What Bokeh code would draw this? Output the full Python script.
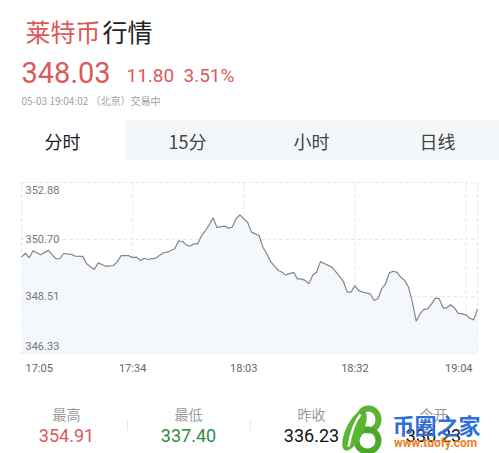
from bokeh.plotting import figure
from bokeh.models import Range1d
from bokeh.core.properties import value
from bokeh.embed import file_html
from bokeh.resources import INLINE

# ---- data -------------------------------------------------------------
coin_name = "莱特币"
title_suffix = "行情"
last_price = 348.03
prev_close = 336.23
timestamp = "05-03 19:04:02 （北京）交易中"

tabs = ["分时", "15分", "小时", "日线"]

# intraday series: minutes after 17:05 and price
minutes = [0, 1, 2, 3, 4, 5, 7, 8, 9, 10, 11, 13, 14, 16, 17, 19, 20, 21, 22, 24,
           25, 26, 28, 29, 30, 31, 32, 33, 35, 36, 37, 38, 40, 41, 42, 43, 44, 45, 46, 47,
           48, 49, 50, 51, 53, 54, 55, 56, 57, 58, 59, 60, 62, 63, 64, 65, 67, 68, 69, 71,
           72, 73, 74, 75, 76, 77, 78, 79, 81, 82, 84, 85, 86, 87, 88, 89, 91, 92, 93, 94,
           95, 96, 97, 98, 99, 100, 101, 102, 103, 104, 105, 106, 107, 108, 109, 110, 111, 112, 113, 114,
           115, 116, 117, 118, 119]
prices = [350.02, 350.17, 350.00, 350.26, 350.19, 350.11, 350.28, 350.11, 349.96, 349.96,
          350.16, 350.13, 350.06, 350.05, 349.77, 349.55, 349.80, 349.74, 349.67, 349.70,
          349.85, 350.08, 350.08, 350.00, 350.02, 349.89, 349.98, 349.93, 349.98, 350.08,
          350.19, 350.21, 350.34, 350.65, 350.62, 350.49, 350.44, 350.53, 350.53, 350.85,
          351.04, 351.26, 351.53, 351.16, 351.21, 351.13, 351.17, 351.49, 351.64, 351.49,
          351.36, 350.98, 350.85, 350.40, 350.15, 349.85, 349.51, 349.44, 349.34, 349.44,
          349.19, 349.19, 349.13, 349.00, 349.34, 349.44, 349.85, 349.78, 349.64, 349.47,
          349.09, 348.68, 348.68, 348.93, 348.74, 348.68, 348.62, 348.36, 348.43, 348.81,
          349.00, 349.42, 349.48, 349.44, 349.25, 349.13, 348.87, 348.30, 347.57, 347.85,
          348.02, 348.04, 348.23, 348.45, 348.43, 348.08, 348.08, 348.20, 348.07, 347.87,
          347.85, 347.81, 347.68, 347.62, 348.03]

price_ticks = [352.88, 350.70, 348.51, 346.33]
time_labels = ["17:05", "17:34", "18:03", "18:32", "19:04"]
time_label_minutes = [0, 29, 58, 87, 119]
grid_minutes = [29, 58, 87, 116]

stat_names = ["最高", "最低", "昨收", "今开"]
stat_values = [354.91, 337.40, 336.23, 336.23]
stat_colors = ["#d85a5a", "#2f8a45", "#111111", "#111111"]

# ---- page geometry ----------------------------------------------------
W, H = 499, 453
PLOT_L, PLOT_R, PLOT_T, PLOT_B = 21, 477, 182, 353   # chart area in page pixels
RED = "#dc5959"
CJK = value("Noto Sans CJK SC")
NUM = value("Roboto")

t0, t1 = minutes[0], minutes[-1]
p_lo, p_hi = price_ticks[-1], price_ticks[0]
sx = (t1 - t0) / (PLOT_R - PLOT_L)          # minutes per pixel
sy = (p_hi - p_lo) / (PLOT_B - PLOT_T)      # price per pixel

p = figure(width=W, height=H, x_range=Range1d(0, W), y_range=Range1d(H, 0),
           x_axis_type=None, y_axis_type=None, toolbar_location=None,
           output_backend="svg", min_border=0)
p.grid.visible = False
p.outline_line_color = None
p.background_fill_color = "white"
p.border_fill_color = "white"

# chart scales: minutes and price mapped into the chart area
p.extra_x_ranges = {"t": Range1d(t0 - PLOT_L * sx, t1 + (W - PLOT_R) * sx)}
p.extra_y_ranges = {"px": Range1d(p_lo - (H - PLOT_B) * sy, p_hi + PLOT_T * sy)}
C = dict(x_range_name="t", y_range_name="px")

# ---- header: title, price, tabs ---------------------------------------
change = last_price - prev_close
pct = change / prev_close * 100

p.text(x=[25], y=[30], text=[coin_name], text_font=CJK, text_font_size="25px",
       text_color=RED, text_baseline="middle")
p.text(x=[102], y=[30], text=[title_suffix], text_font=CJK, text_font_size="25px",
       text_color="#222222", text_baseline="middle")
p.text(x=[21], y=[72], text=[f"{last_price:.2f}"], text_font=NUM, text_font_size="29px",
       text_color=RED, text_baseline="middle")
p.text(x=[126], y=[75], text=[f"{change:.2f}"], text_font=NUM, text_font_size="19px",
       text_color=RED, text_baseline="middle")
p.text(x=[183], y=[75], text=[f"{pct:.2f}%"], text_font=NUM, text_font_size="19px",
       text_color=RED, text_baseline="middle")
p.text(x=[21], y=[100], text=[timestamp], text_font=CJK, text_font_size="10px",
       text_color="#a0a0a0", text_baseline="middle")

p.quad(left=[125], right=[W], top=[120], bottom=[159], fill_color="#f4f7f9", line_color=None)
tab_x = [62, 187, 311, 437]
p.text(x=tab_x, y=[140] * 4, text=tabs, text_font=CJK, text_font_size="18px",
       text_color=["#1a1a1a", "#444444", "#444444", "#444444"],
       text_align="center", text_baseline="middle")

# ---- intraday chart ---------------------------------------------------
GRID = dict(line_color="#e3e3e3", line_dash="3 3", line_width=1)
# dashed frame and grid
p.segment(x0=[t0, t1, t0, t0], y0=[p_lo, p_lo, p_hi, p_lo],
          x1=[t0, t1, t1, t1], y1=[p_hi, p_hi, p_hi, p_lo], **GRID, **C)
p.segment(x0=grid_minutes, y0=[p_lo] * len(grid_minutes),
          x1=grid_minutes, y1=[p_hi] * len(grid_minutes), **GRID, **C)
p.segment(x0=[t0, t0], y0=price_ticks[1:3], x1=[t1, t1], y1=price_ticks[1:3], **GRID, **C)

p.varea(x=minutes, y1=p_lo, y2=prices, fill_color="#f4f8fc", **C)
p.line(x=minutes, y=prices, line_color="#858585", line_width=1.2, **C)

# price scale labels inside the chart
p.text(x=[t0] * 4, y=price_ticks, text=[f"{v:.2f}" for v in price_ticks],
       x_offset=4, y_offset=[7, 0, -1, -8], text_font=NUM, text_font_size="11px",
       text_color="#777777", text_baseline="middle", **C)

# time labels under the chart
last = len(time_labels) - 1
p.text(x=[time_label_minutes[0]], y=[p_lo], text=[time_labels[0]], x_offset=4, y_offset=15,
       text_font=NUM, text_font_size="11px", text_color="#666666",
       text_align="left", text_baseline="middle", **C)
p.text(x=time_label_minutes[1:last], y=[p_lo] * (last - 1), text=time_labels[1:last],
       y_offset=15, text_font=NUM, text_font_size="11px", text_color="#666666",
       text_align="center", text_baseline="middle", **C)
p.text(x=[time_label_minutes[last]], y=[p_lo], text=[time_labels[last]], x_offset=-5,
       y_offset=15, text_font=NUM, text_font_size="11px", text_color="#666666",
       text_align="right", text_baseline="middle", **C)

# ---- footer: daily statistics -----------------------------------------
col_x = [66, 188, 311, 433]
p.text(x=col_x, y=[413] * 4, text=stat_names, text_font=CJK, text_font_size="14px",
       text_color="#9a9a9a", text_align="center", text_baseline="middle")
p.text(x=col_x, y=[435] * 4, text=[f"{v:.2f}" for v in stat_values], text_font=NUM,
       text_font_size="18px", text_color=stat_colors, text_align="center",
       text_baseline="middle")
p.segment(x0=[127, 250, 372], y0=[420] * 3, x1=[127, 250, 372], y1=[430] * 3,
          line_color="#e6e6e6", line_width=1)

# site mark: green leaf emblem with wordmark
p.ellipse(x=[368], y=[419], width=20, height=22, fill_color=None,
          line_color="#5cb531", line_width=6)
p.ellipse(x=[367], y=[440], width=22, height=22, fill_color=None,
          line_color="#4aa82a", line_width=6)
p.ellipse(x=[354], y=[430], width=17, height=44, angle=-0.45, fill_color="#5cb531",
          line_color=None)
p.bezier(x0=[348], y0=[446], x1=[360], y1=[414], cx0=[351], cy0=[430], cx1=[355], cy1=[420],
         line_color="#ffffff", line_width=2.5)
p.text(x=[436], y=[423], text=["币圈之家"], text_font=CJK, text_font_style="bold",
       text_font_size="22px", text_color="#2d6fd6", text_align="center",
       text_baseline="middle")
p.text(x=[435], y=[442], text=["www.tuofy.com"], text_font=NUM,
       text_font_style="bold", text_font_size="12px", text_color="#f07d1e",
       text_align="center", text_baseline="middle")

open("out.html", "w").write(file_html(p, INLINE))
